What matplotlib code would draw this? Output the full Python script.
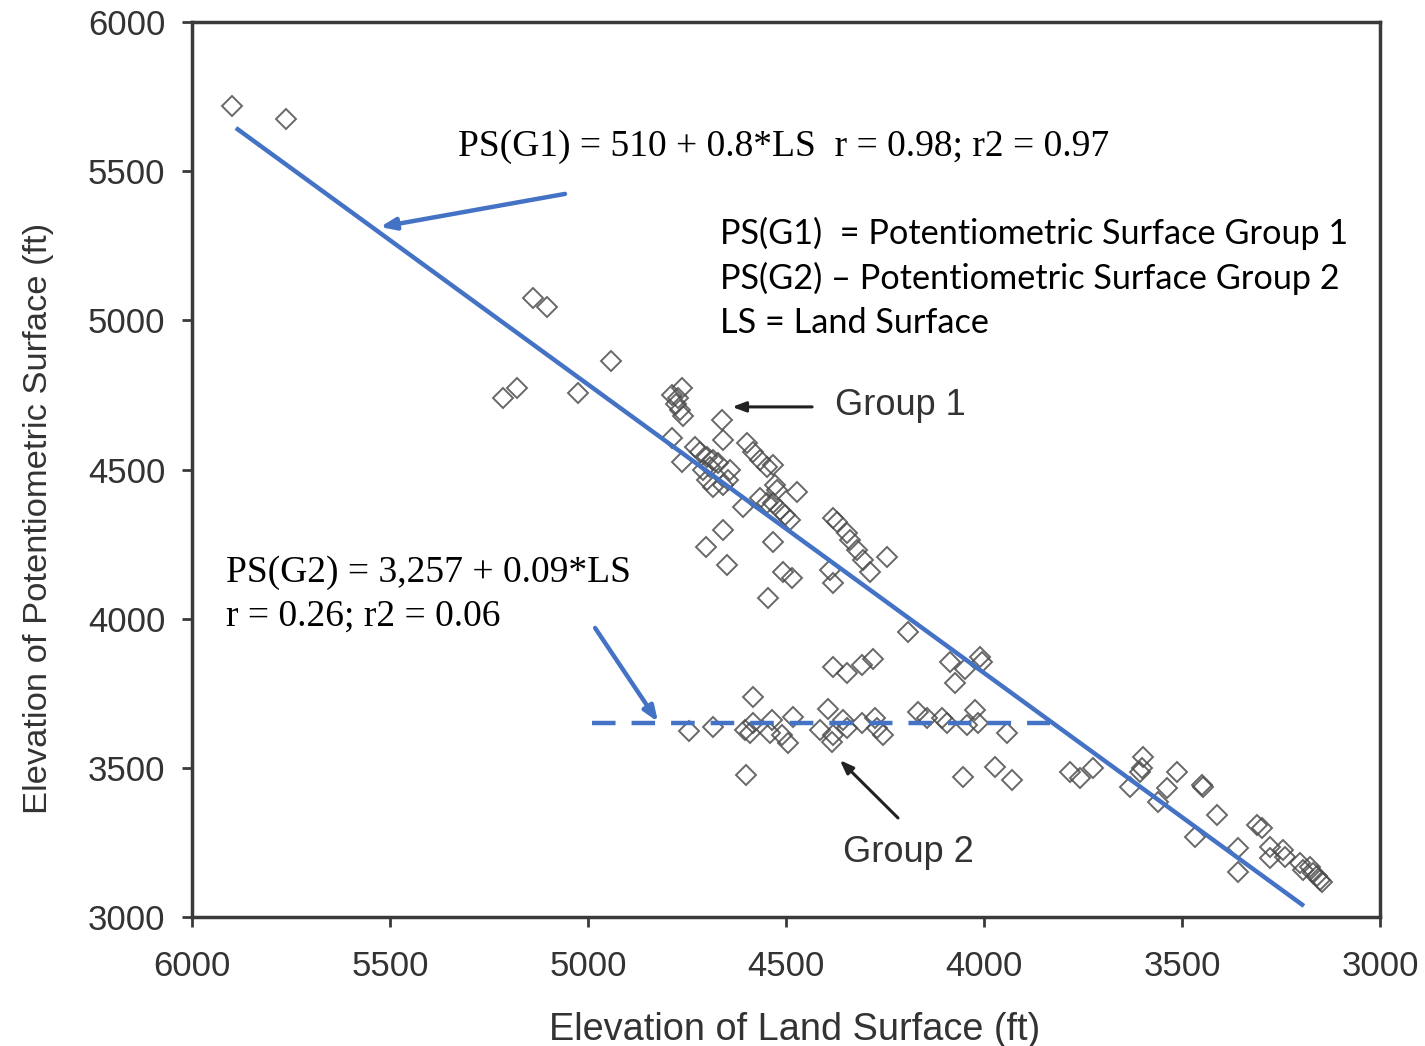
import matplotlib
matplotlib.use("Agg")
import matplotlib.pyplot as plt

# Well data: land-surface elevation (ft) vs. potentiometric-surface elevation (ft)
land_surface = [
    5900, 5763, 5139, 5104, 5215, 5179, 5025, 4942,
    4788, 4763, 4778, 4768, 4760, 4773, 4662, 4659, 4788, 4763, 4730, 4717,
    4700, 4684, 4672, 4692, 4710, 4700, 4684, 4659, 4641, 4646, 4599, 4583,
    4566, 4548, 4533, 4528, 4523, 4472, 4566, 4548, 4609, 4533, 4515, 4503,
    4490, 4659, 4702, 4649, 4533, 4508, 4485, 4545, 4381, 4371, 4346, 4338,
    4321, 4306, 4389, 4381, 4288, 4245, 4192,
    4381, 4346, 4308, 4280, 4086, 4048, 4010, 4005, 4073, 4583,
    4745, 4684, 4604, 4591, 4583, 4535, 4540, 4510, 4495, 4482, 4394, 4414,
    4381, 4384, 4356, 4346, 4308, 4275, 4270, 4255, 4167, 4144, 4106, 4094,
    4043, 4023, 4015, 3942, 4601, 4053, 3972, 3929,
    3783, 3758, 3725, 3599, 3601, 3606, 3631, 3538, 3561, 3513, 3450, 3447,
    3412, 3467, 3311, 3298, 3359, 3359, 3278, 3278, 3245, 3240, 3202, 3194,
    3177, 3169, 3152, 3159, 3147,
]
potentiometric = [
    5718, 5675, 5075, 5045, 4740, 4773, 4756, 4864,
    4750, 4773, 4720, 4700, 4679, 4740, 4666, 4599, 4606, 4525, 4575, 4559,
    4542, 4532, 4522, 4508, 4498, 4465, 4441, 4448, 4498, 4465, 4589, 4559,
    4532, 4508, 4515, 4448, 4431, 4425, 4404, 4388, 4374, 4388, 4364, 4347,
    4331, 4297, 4240, 4180, 4257, 4156, 4136, 4069, 4337, 4324, 4287, 4264,
    4230, 4197, 4163, 4120, 4156, 4207, 3955,
    3838, 3818, 3845, 3865, 3855, 3831, 3872, 3855, 3784, 3737,
    3623, 3637, 3627, 3617, 3650, 3660, 3617, 3610, 3583, 3670, 3697, 3627,
    3610, 3587, 3660, 3634, 3650, 3667, 3634, 3610, 3687, 3667, 3667, 3650,
    3644, 3694, 3650, 3617, 3476, 3469, 3503, 3459,
    3486, 3466, 3499, 3536, 3499, 3486, 3436, 3432, 3385, 3486, 3442, 3436,
    3342, 3268, 3308, 3298, 3231, 3151, 3235, 3198, 3225, 3201, 3181, 3158,
    3168, 3147, 3124, 3137, 3117,
]

# Hand-drawn trend lines (end points in data units)
g1_line_x = [5889, 3192]
g1_line_y = [5645, 3037]
g2_line_x = [4990, 3834]
g2_line_y = [3650, 3650]

x_ticks = [6000, 5500, 5000, 4500, 4000, 3500, 3000]
y_ticks = [3000, 3500, 4000, 4500, 5000, 5500, 6000]

BLUE = "#4472C4"
AXIS_GRAY = "#3a3a3a"
TEXT_GRAY = "#333333"

fig = plt.figure(figsize=(14.25, 10.46), dpi=100)
ax = fig.add_axes([0.1347, 0.1233, 0.8337, 0.8556])

ax.plot(land_surface, potentiometric, linestyle="none", marker="D",
        markersize=10, markerfacecolor="none", markeredgecolor="#4d4d4d",
        markeredgewidth=1.4, alpha=0.85)

ax.plot(g1_line_x, g1_line_y, color=BLUE, lw=3.2, solid_capstyle="butt")
ax.plot(g2_line_x, g2_line_y, color=BLUE, lw=3.2, linestyle=(0, (5.3, 3.6)))

ax.set_xlim(6000, 3000)
ax.set_ylim(3000, 6000)
ax.set_xticks(x_ticks)
ax.set_yticks(y_ticks)
ax.set_xticklabels([str(v) for v in x_ticks])
ax.set_yticklabels([str(v) for v in y_ticks])

for s in ax.spines.values():
    s.set_color(AXIS_GRAY)
    s.set_linewidth(2.5)
ax.tick_params(direction="out", length=7, width=2, colors=AXIS_GRAY,
               labelcolor=TEXT_GRAY, labelsize=25)
ax.tick_params(axis="y", pad=12)
ax.tick_params(axis="x", pad=17)
for lab in ax.get_xticklabels() + ax.get_yticklabels():
    lab.set_family("Liberation Sans")

ax.set_xlabel("Elevation of Land Surface (ft)", fontsize=27.3,
              family="Liberation Sans", color=TEXT_GRAY)
ax.set_ylabel("Elevation of Potentiometric Surface (ft)", fontsize=24.8,
              family="Liberation Sans", color=TEXT_GRAY)
ax.xaxis.set_label_coords(0.5076, -0.106)
ax.yaxis.set_label_coords(-0.116, 0.445)

# Regression annotations
ax.text(5328, 5581, "PS(G1) = 510 + 0.8*LS  r = 0.98; r2 = 0.97",
        family="Liberation Serif", fontsize=27, color="black",
        ha="left", va="center")
ax.annotate("", xy=(5525, 5313), xytext=(5058, 5424),
            arrowprops=dict(arrowstyle="-|>,head_length=0.9,head_width=0.35",
                            color=BLUE, lw=3.2, shrinkA=0, shrinkB=0))

ax.text(5914, 4153, "PS(G2) = 3,257 + 0.09*LS", family="Liberation Serif",
        fontsize=27, color="black", ha="left", va="center")
ax.text(5914, 4006, "r = 0.26; r2 = 0.06", family="Liberation Serif",
        fontsize=27, color="black", ha="left", va="center")
ax.annotate("", xy=(4823, 3654), xytext=(4982, 3969),
            arrowprops=dict(arrowstyle="-|>,head_length=0.9,head_width=0.35",
                            color=BLUE, lw=3.2, shrinkA=0, shrinkB=0))

# Key to abbreviations
for y, line in zip([5293, 5139, 4991],
                   ["PS(G1)  = Potentiometric Surface Group 1",
                    "PS(G2) \u2013 Potentiometric Surface Group 2",
                    "LS = Land Surface"]):
    ax.text(4667, y, line, family="Lato", fontsize=24.7, color="black",
            ha="left", va="center")

# Group labels
ax.text(4376, 4716, "Group 1", family="Liberation Sans", fontsize=26,
        color=TEXT_GRAY, ha="left", va="center")
ax.annotate("", xy=(4636, 4710), xytext=(4434, 4710),
            arrowprops=dict(arrowstyle="-|>,head_length=0.8,head_width=0.3",
                            color="#222222", lw=2.2, shrinkA=0, shrinkB=0))
ax.text(4356, 3215, "Group 2", family="Liberation Sans", fontsize=26,
        color=TEXT_GRAY, ha="left", va="center")
ax.annotate("", xy=(4364, 3526), xytext=(4217, 3332),
            arrowprops=dict(arrowstyle="-|>,head_length=0.8,head_width=0.3",
                            color="#222222", lw=2.2, shrinkA=0, shrinkB=0))

fig.savefig("out.png", dpi=100, facecolor="white")
